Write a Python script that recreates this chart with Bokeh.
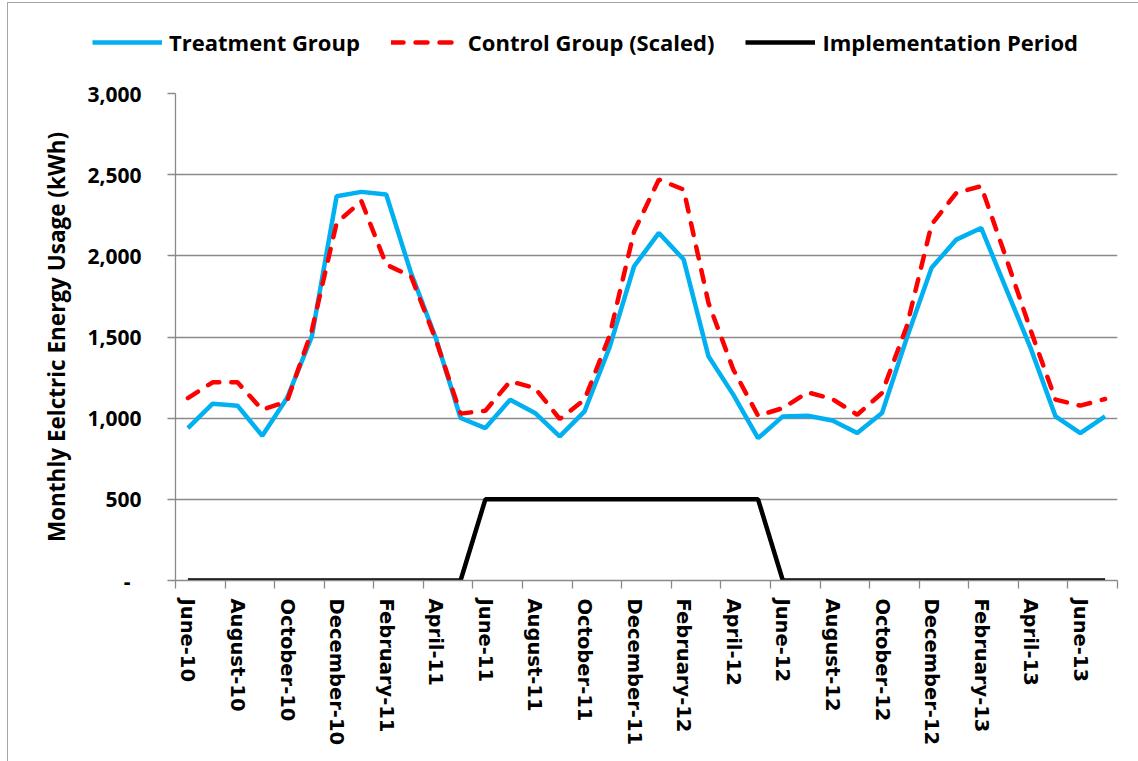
from bokeh.plotting import figure
from bokeh.layouts import column
from bokeh.models import (Range1d, FixedTicker, Legend, LegendItem, ColumnDataSource)
from bokeh.embed import file_html
from bokeh.resources import INLINE

# ---- data ----
months = ["June-10", "July-10", "August-10", "September-10", "October-10", "November-10",
          "December-10", "January-11", "February-11", "March-11", "April-11", "May-11",
          "June-11", "July-11", "August-11", "September-11", "October-11", "November-11",
          "December-11", "January-12", "February-12", "March-12", "April-12", "May-12",
          "June-12", "July-12", "August-12", "September-12", "October-12", "November-12",
          "December-12", "January-13", "February-13", "March-13", "April-13", "May-13",
          "June-13", "July-13"]
treatment = [939, 1089, 1077, 892, 1124, 1504, 2367, 2394, 2378, 1895, 1494, 1001,
             939, 1114, 1032, 888, 1042, 1432, 1936, 2141, 1977, 1381, 1145, 877,
             1011, 1015, 986, 908, 1032, 1494, 1926, 2100, 2172, 1800, 1430, 1011,
             908, 1011]
control = [1124, 1221, 1221, 1052, 1104, 1540, 2203, 2337, 1946, 1874, 1484, 1028,
           1046, 1227, 1186, 995, 1114, 1504, 2150, 2470, 2408, 1710, 1300, 1015,
           1062, 1159, 1118, 1021, 1155, 1566, 2193, 2388, 2429, 1990, 1540, 1114,
           1077, 1118]
implementation = [0, 0, 0, 0, 0, 0, 0, 0, 0, 0, 0, 0,
                  500, 500, 500, 500, 500, 500, 500, 500, 500, 500, 500, 500,
                  0, 0, 0, 0, 0, 0, 0, 0, 0, 0, 0, 0, 0, 0]
y_ticks = [0, 500, 1000, 1500, 2000, 2500, 3000]
y_tick_labels = ["-\u00a0\u00a0", "500", "1,000", "1,500", "2,000", "2,500", "3,000"]
series_names = ["Treatment Group", "Control Group (Scaled)", "Implementation Period"]
y_title = "Monthly Eelctric Energy Usage (kWh)"

BLUE, RED, BLACK, GRAY = "#00B0F0", "#FF0000", "black", "#8a8a8a"
LW = 4.5
DASH = "12 12"

x = list(range(len(months)))
src = ColumnDataSource(dict(x=x, t=treatment, c=control, imp=implementation))

W = 1130
LEG_H = 72
MAIN_H = 758 - LEG_H

# ---------- legend strip (same series, drawn outside its visible range) ----------
pl = figure(width=W, height=LEG_H, output_backend="svg", toolbar_location=None,
            x_range=Range1d(0, 1), y_range=Range1d(-2, -1),
            min_border=0, outline_line_color=None)
pl.frame_align = False
pl.axis.visible = False
pl.grid.visible = False
pl.background_fill_color = "white"
pl.border_fill_color = "white"
lt = pl.line("x", "t", source=src, line_color=BLUE, line_width=LW)
lc = pl.line("x", "c", source=src, line_color=RED, line_width=LW,
             line_dash=DASH, line_cap="round")
li = pl.line("x", "imp", source=src, line_color=BLACK, line_width=LW)
legend = Legend(items=[LegendItem(label=series_names[0], renderers=[lt]),
                       LegendItem(label=series_names[1], renderers=[lc]),
                       LegendItem(label=series_names[2], renderers=[li])],
                orientation="horizontal", location=(84, 18),
                glyph_width=70, glyph_height=20, label_standoff=7, spacing=31,
                padding=0, margin=0, border_line_color=None,
                background_fill_alpha=0,
                label_text_font="Open Sans", label_text_font_style="bold",
                label_text_font_size="22px", label_text_color="black")
pl.add_layout(legend, "center")

# ---------- main chart ----------
p = figure(width=W, height=MAIN_H, output_backend="svg", toolbar_location=None,
           x_range=Range1d(-0.5, len(months) - 0.5), y_range=Range1d(0, 3000),
           min_border_left=167, min_border_right=21, min_border_top=18,
           min_border_bottom=181)
p.frame_align = False
p.outline_line_color = None
p.background_fill_color = "white"
p.border_fill_color = "white"

p.line("x", "imp", source=src, line_color=BLACK, line_width=LW)
p.line("x", "t", source=src, line_color=BLUE, line_width=LW)
p.line("x", "c", source=src, line_color=RED, line_width=LW,
       line_dash=DASH, line_cap="round")

# grid
p.xgrid.visible = False
p.ygrid.ticker = FixedTicker(ticks=y_ticks)
p.ygrid.grid_line_color = GRAY
p.ygrid.grid_line_width = 1.3

# y axis
ya = p.yaxis[0]
ya.ticker = FixedTicker(ticks=y_ticks)
ya.major_label_overrides = {t: l for t, l in zip(y_ticks, y_tick_labels)}
ya.axis_line_color = GRAY
ya.axis_line_width = 1.3
ya.major_tick_line_color = GRAY
ya.major_tick_line_width = 1.3
ya.major_tick_out = 8
ya.major_tick_in = 0
ya.minor_tick_line_color = None
ya.major_label_standoff = 26
ya.major_label_text_font = "Open Sans"
ya.major_label_text_font_style = "bold"
ya.major_label_text_font_size = "21px"
ya.major_label_text_color = "black"
ya.axis_label = y_title
ya.axis_label_text_font = "Open Sans"
ya.axis_label_text_font_style = "bold"
ya.axis_label_text_font_size = "22.5px"
ya.axis_label_text_color = "black"
ya.axis_label_standoff = 12

# x axis: labels at every other month centre, ticks on category boundaries
xa = p.xaxis[0]
label_pos = x[::2]
boundaries = [i - 0.5 for i in range(0, len(months) + 1, 2)]
xa.ticker = FixedTicker(ticks=label_pos, minor_ticks=boundaries)
xa.major_label_overrides = {i: months[i] for i in label_pos}
xa.major_label_orientation = "vertical"
xa.major_tick_line_color = None
xa.major_tick_out = 8
xa.major_tick_in = 0
xa.minor_tick_line_color = GRAY
xa.minor_tick_line_width = 1.3
xa.minor_tick_out = 8
xa.minor_tick_in = 0
xa.axis_line_color = GRAY
xa.axis_line_width = 1.3
xa.major_label_standoff = 10
xa.major_label_text_font = "DejaVu Sans"
xa.major_label_text_font_style = "bold"
xa.major_label_text_font_size = "19.5px"
xa.major_label_text_color = "black"

layout = column(pl, p, spacing=0,
                styles={"border-left": "1.5px solid #a6a6a6",
                        "border-top": "1.5px solid #a6a6a6",
                        "margin-left": "7px", "margin-top": "2px"})

open("out.html", "w").write(file_html(layout, INLINE))
